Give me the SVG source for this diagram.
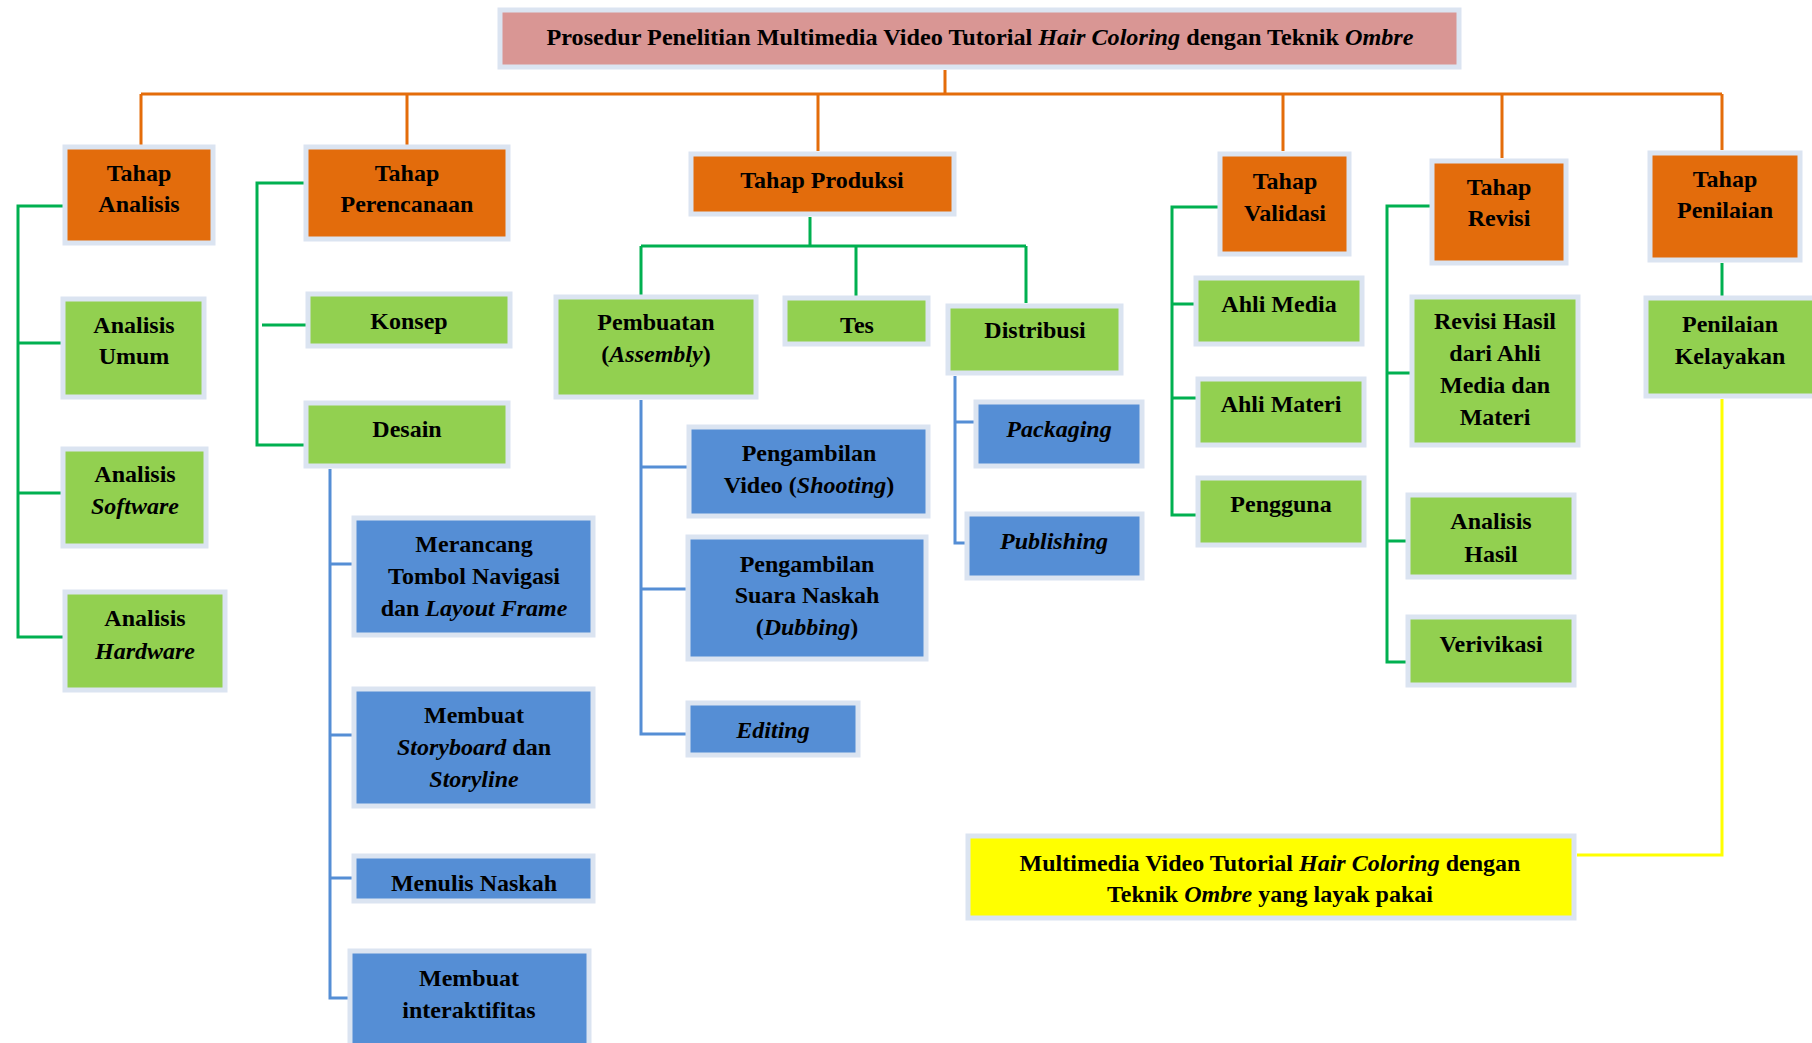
<svg xmlns="http://www.w3.org/2000/svg" width="1812" height="1043" viewBox="0 0 1812 1043">
<style>
.b{stroke:#dbe4f1;stroke-width:5}
.o{fill:#e36c0c}
.g{fill:#92d050}
.bl{fill:#558ed5}
.t{fill:#d99694}
.y{fill:#ffff00}
text{font-family:'Liberation Serif','DejaVu Serif',serif;font-weight:700;font-size:24px;fill:#000;text-anchor:middle}
.i{font-style:italic}
.lo{stroke:#e46c0a;stroke-width:3;fill:none}
.lg{stroke:#00b050;stroke-width:3;fill:none}
.lb{stroke:#558ed5;stroke-width:3;fill:none}
.ly{stroke:#ffff00;stroke-width:3;fill:none}
</style>
<g id="connectors">
<path class="lo" d="M945 70V94M141 94H1722M141 94V146M407 94V146M818 94V151M1283 94V151M1502 94V158M1722 94V150"/>
<path class="lg" d="M67 206H18V637H67M18 343H65M18 493H65"/>
<path class="lg" d="M307 183H257V445H310M262 325H310"/>
<path class="lg" d="M810 217V246M641 246H1026M641 246V296M856 246V296M1026 246V303"/>
<path class="lg" d="M1221 207H1172V515H1198M1172 304H1196M1172 398H1198"/>
<path class="lg" d="M1433 206H1387V662H1408M1387 373H1412M1387 541H1408"/>
<path class="lg" d="M1722 263V298"/>
<path class="lb" d="M330 469V998H350M330 564H355M330 735H355M330 878H355"/>
<path class="lb" d="M641 400V734H688M641 467H690M641 589H690"/>
<path class="lb" d="M955 376V543H967M955 422H976"/>
<path class="ly" d="M1722 399V855H1577"/>
</g>
<g id="title"><rect class="t b" x="500" y="10" width="959" height="57"/><text x="980" y="45" textLength="867" lengthAdjust="spacingAndGlyphs">Prosedur Penelitian Multimedia Video Tutorial <tspan class="i">Hair Coloring</tspan> dengan Teknik <tspan class="i">Ombre</tspan></text></g>
<g id="tahap-analisis"><rect class="o b" x="65" y="147" width="148" height="96"/><text x="139" y="181">Tahap<tspan x="139" dy="31">Analisis</tspan></text></g>
<g id="tahap-perencanaan"><rect class="o b" x="306" y="147" width="202" height="92"/><text x="407" y="181">Tahap<tspan x="407" dy="31">Perencanaan</tspan></text></g>
<g id="tahap-produksi"><rect class="o b" x="691" y="154" width="263" height="60"/><text x="822" y="188">Tahap Produksi</text></g>
<g id="tahap-validasi"><rect class="o b" x="1220" y="154" width="129" height="100"/><text x="1285" y="189">Tahap<tspan x="1285" dy="32">Validasi</tspan></text></g>
<g id="tahap-revisi"><rect class="o b" x="1432" y="161" width="134" height="102"/><text x="1499" y="195">Tahap<tspan x="1499" dy="31">Revisi</tspan></text></g>
<g id="tahap-penilaian"><rect class="o b" x="1650" y="153" width="150" height="107"/><text x="1725" y="187">Tahap<tspan x="1725" dy="31">Penilaian</tspan></text></g>
<g id="analisis-umum"><rect class="g b" x="63" y="299" width="141" height="98"/><text x="134" y="333">Analisis<tspan x="134" dy="31">Umum</tspan></text></g>
<g id="analisis-software"><rect class="g b" x="63" y="449" width="143" height="97"/><text x="135" y="482">Analisis<tspan x="135" dy="32" class="i">Software</tspan></text></g>
<g id="analisis-hardware"><rect class="g b" x="65" y="592" width="160" height="98"/><text x="145" y="626">Analisis<tspan x="145" dy="33" class="i">Hardware</tspan></text></g>
<g id="konsep"><rect class="g b" x="308" y="294" width="202" height="52"/><text x="409" y="329">Konsep</text></g>
<g id="desain"><rect class="g b" x="306" y="403" width="202" height="63"/><text x="407" y="437">Desain</text></g>
<g id="pembuatan"><rect class="g b" x="556" y="297" width="200" height="100"/><text x="656" y="330">Pembuatan<tspan x="656" dy="32">(<tspan class="i">Assembly</tspan>)</tspan></text></g>
<g id="tes"><rect class="g b" x="785" y="298" width="143" height="46"/><text x="857" y="333">Tes</text></g>
<g id="distribusi"><rect class="g b" x="948" y="306" width="173" height="67"/><text x="1035" y="338">Distribusi</text></g>
<g id="ahli-media"><rect class="g b" x="1196" y="278" width="166" height="66"/><text x="1279" y="312">Ahli Media</text></g>
<g id="ahli-materi"><rect class="g b" x="1198" y="379" width="166" height="66"/><text x="1281" y="412">Ahli Materi</text></g>
<g id="pengguna"><rect class="g b" x="1198" y="478" width="166" height="67"/><text x="1281" y="512">Pengguna</text></g>
<g id="revisi-hasil"><rect class="g b" x="1412" y="297" width="166" height="148"/><text x="1495" y="329">Revisi Hasil<tspan x="1495" dy="32">dari Ahli</tspan><tspan x="1495" dy="32">Media dan</tspan><tspan x="1495" dy="32">Materi</tspan></text></g>
<g id="analisis-hasil"><rect class="g b" x="1408" y="495" width="166" height="82"/><text x="1491" y="529">Analisis<tspan x="1491" dy="33">Hasil</tspan></text></g>
<g id="verivikasi"><rect class="g b" x="1408" y="617" width="166" height="68"/><text x="1491" y="652">Verivikasi</text></g>
<g id="penilaian-kelayakan"><rect class="g b" x="1646" y="298" width="172" height="98"/><text x="1730" y="332">Penilaian<tspan x="1730" dy="32">Kelayakan</tspan></text></g>
<g id="merancang"><rect class="bl b" x="354" y="518" width="239" height="117"/><text x="474" y="552">Merancang<tspan x="474" dy="32">Tombol Navigasi</tspan><tspan x="474" dy="32">dan <tspan class="i">Layout Frame</tspan></tspan></text></g>
<g id="membuat-storyboard"><rect class="bl b" x="354" y="689" width="239" height="117"/><text x="474" y="723">Membuat<tspan x="474" dy="32"><tspan class="i">Storyboard</tspan> dan</tspan><tspan x="474" dy="32" class="i">Storyline</tspan></text></g>
<g id="menulis-naskah"><rect class="bl b" x="354" y="856" width="239" height="45"/><text x="474" y="891">Menulis Naskah</text></g>
<g id="membuat-interaktifitas"><rect class="bl b" x="350" y="951" width="239" height="100"/><text x="469" y="986">Membuat<tspan x="469" dy="32">interaktifitas</tspan></text></g>
<g id="pengambilan-video"><rect class="bl b" x="689" y="427" width="239" height="89"/><text x="809" y="461">Pengambilan<tspan x="809" dy="32">Video (<tspan class="i">Shooting</tspan>)</tspan></text></g>
<g id="pengambilan-suara"><rect class="bl b" x="688" y="537" width="238" height="122"/><text x="807" y="572">Pengambilan<tspan x="807" dy="31">Suara Naskah</tspan><tspan x="807" dy="32">(<tspan class="i">Dubbing</tspan>)</tspan></text></g>
<g id="editing"><rect class="bl b" x="688" y="703" width="170" height="52"/><text x="773" y="738" class="i">Editing</text></g>
<g id="packaging"><rect class="bl b" x="976" y="402" width="166" height="64"/><text x="1059" y="437" class="i">Packaging</text></g>
<g id="publishing"><rect class="bl b" x="967" y="514" width="175" height="64"/><text x="1054" y="549" class="i">Publishing</text></g>
<g id="hasil"><rect class="y b" x="968" y="836" width="606" height="82"/><text x="1270" y="871">Multimedia Video Tutorial <tspan class="i">Hair Coloring</tspan> dengan<tspan x="1270" dy="31">Teknik <tspan class="i">Ombre</tspan> yang layak pakai</tspan></text></g>
</svg>
